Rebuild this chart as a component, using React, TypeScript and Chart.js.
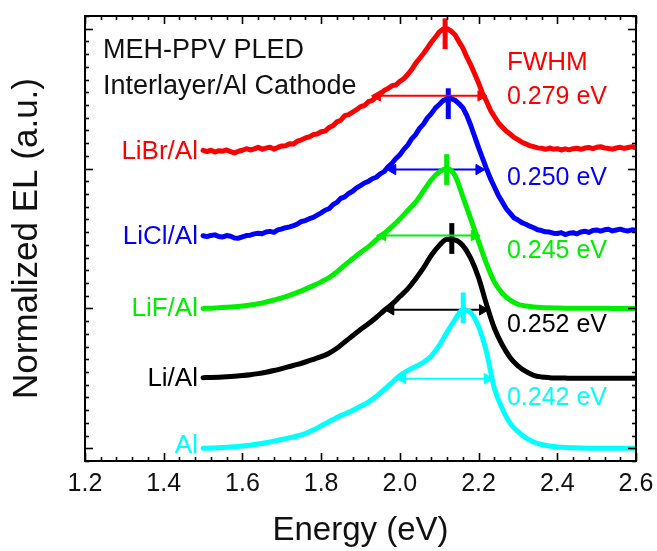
import React, { useEffect, useRef } from 'react';
import { Chart, registerables } from 'chart.js';

Chart.register(...registerables);

const FONT = "'Liberation Sans', Arial, Helvetica, sans-serif";

// ---------- data ----------
const CURVE_NAMES = ['LiBr/Al', 'LiCl/Al', 'LiF/Al', 'Li/Al', 'Al'];
const CURVE_COLORS = ['#ff0000', '#0000ff', '#00ee00', '#000000', '#00ffff'];
const CURVE_OFFSETS = [2.0, 1.5, 1.0, 0.5, 0.0];
const FWHM_TEXT = ['0.279 eV', '0.250 eV', '0.245 eV', '0.252 eV', '0.242 eV'];

// energy grids (eV)
const ENERGY_FINE = [
  1.50, 1.51, 1.52, 1.53, 1.54, 1.55, 1.56, 1.57, 1.58, 1.59,
  1.60, 1.61, 1.62, 1.63, 1.64, 1.65, 1.66, 1.67, 1.68, 1.69,
  1.70, 1.71, 1.72, 1.73, 1.74, 1.75, 1.76, 1.77, 1.78, 1.79,
  1.80, 1.81, 1.82, 1.83, 1.84, 1.85, 1.86, 1.87, 1.88, 1.89,
  1.90, 1.91, 1.92, 1.93, 1.94, 1.95, 1.96, 1.97, 1.98, 1.99,
  2.00, 2.01, 2.02, 2.03, 2.04, 2.05, 2.06, 2.07, 2.08, 2.09,
  2.10, 2.11, 2.12, 2.13, 2.14, 2.15, 2.16, 2.17, 2.18, 2.19,
  2.20, 2.21, 2.22, 2.23, 2.24, 2.25, 2.26, 2.27, 2.28, 2.29,
  2.30, 2.31, 2.32, 2.33, 2.34, 2.35, 2.36, 2.37, 2.38, 2.39,
  2.40, 2.41, 2.42, 2.43, 2.44, 2.45, 2.46, 2.47, 2.48, 2.49,
  2.50, 2.51, 2.52, 2.53, 2.54, 2.55, 2.56, 2.57, 2.58, 2.59,
  2.60,
];
const ENERGY = [
  1.50, 1.52, 1.54, 1.56, 1.58, 1.60, 1.62, 1.64, 1.66, 1.68,
  1.70, 1.72, 1.74, 1.76, 1.78, 1.80, 1.82, 1.84, 1.86, 1.88,
  1.90, 1.92, 1.94, 1.96, 1.98, 2.00, 2.02, 2.04, 2.06, 2.08,
  2.10, 2.12, 2.14, 2.16, 2.18, 2.20, 2.22, 2.24, 2.26, 2.28,
  2.30, 2.32, 2.34, 2.36, 2.38, 2.40, 2.42, 2.44, 2.46, 2.48,
  2.50, 2.52, 2.54, 2.56, 2.58, 2.60,
];

// normalized EL (noisy spectra on ENERGY_FINE)
const EL_LIBR = [
  0.130, 0.122, 0.131, 0.118, 0.128, 0.124, 0.133, 0.121, 0.112, 0.124,
  0.131, 0.142, 0.133, 0.141, 0.152, 0.138, 0.146, 0.153, 0.139, 0.151,
  0.162, 0.163, 0.178, 0.176, 0.197, 0.206, 0.219, 0.226, 0.243, 0.247,
  0.263, 0.268, 0.293, 0.306, 0.334, 0.346, 0.378, 0.386, 0.404, 0.421,
  0.443, 0.451, 0.478, 0.487, 0.513, 0.531, 0.558, 0.572, 0.593, 0.598,
  0.623, 0.642, 0.673, 0.707, 0.752, 0.787, 0.823, 0.862, 0.903, 0.938,
  0.977, 0.998, 1.000, 0.984, 0.957, 0.908, 0.862, 0.798, 0.742, 0.678,
  0.612, 0.538, 0.482, 0.418, 0.372, 0.328, 0.297, 0.268, 0.247, 0.223,
  0.207, 0.188, 0.177, 0.163, 0.157, 0.148, 0.146, 0.138, 0.147, 0.139,
  0.142, 0.133, 0.141, 0.134, 0.142, 0.146, 0.138, 0.147, 0.151, 0.143,
  0.152, 0.156, 0.148, 0.144, 0.139, 0.147, 0.152, 0.144, 0.151, 0.157,
  0.149,
];
const EL_LICL = [
  0.020, 0.013, 0.022, 0.026, 0.014, 0.011, 0.021, 0.016, 0.004, 0.002,
  0.012, 0.021, 0.024, 0.033, 0.038, 0.034, 0.047, 0.051, 0.044, 0.062,
  0.068, 0.077, 0.083, 0.092, 0.104, 0.122, 0.128, 0.142, 0.151, 0.167,
  0.183, 0.202, 0.213, 0.242, 0.258, 0.287, 0.298, 0.322, 0.338, 0.362,
  0.378, 0.397, 0.408, 0.427, 0.438, 0.462, 0.478, 0.512, 0.538, 0.572,
  0.598, 0.637, 0.668, 0.712, 0.743, 0.787, 0.818, 0.862, 0.893, 0.932,
  0.958, 0.986, 0.998, 1.000, 0.990, 0.965, 0.935, 0.880, 0.810, 0.730,
  0.650, 0.575, 0.500, 0.430, 0.370, 0.310, 0.262, 0.214, 0.182, 0.148,
  0.132, 0.113, 0.102, 0.088, 0.077, 0.063, 0.057, 0.048, 0.046, 0.038,
  0.036, 0.042, 0.028, 0.037, 0.041, 0.033, 0.047, 0.052, 0.043, 0.057,
  0.061, 0.053, 0.062, 0.066, 0.054, 0.061, 0.067, 0.058, 0.054, 0.062,
  0.059,
];
// smooth spectra on ENERGY
const EL_LIF = [
  0.000, 0.002, 0.005, 0.008, 0.012, 0.018, 0.025, 0.034, 0.045, 0.060,
  0.075, 0.094, 0.115, 0.138, 0.163, 0.190, 0.220, 0.260, 0.310, 0.355,
  0.400, 0.440, 0.490, 0.535, 0.585, 0.640, 0.700, 0.760, 0.840, 0.920,
  0.975, 1.000, 0.950, 0.800, 0.640, 0.480, 0.320, 0.190, 0.110, 0.060,
  0.030, 0.018, 0.010, 0.006, 0.004, 0.003, 0.002, 0.002, 0.001, 0.001,
  0.001, 0.001, 0.000, 0.000, 0.000, 0.000,
];
const EL_LI = [
  0.005, 0.006, 0.008, 0.011, 0.015, 0.020, 0.026, 0.034, 0.044, 0.056,
  0.070, 0.085, 0.100, 0.117, 0.135, 0.155, 0.180, 0.215, 0.260, 0.305,
  0.350, 0.390, 0.435, 0.485, 0.530, 0.585, 0.640, 0.710, 0.790, 0.880,
  0.950, 0.995, 0.990, 0.950, 0.860, 0.720, 0.530, 0.360, 0.240, 0.150,
  0.090, 0.050, 0.022, 0.010, 0.005, 0.003, 0.002, 0.001, 0.001, 0.000,
  0.000, 0.000, 0.000, 0.000, 0.000, 0.000,
];
const EL_AL = [
  0.000, 0.002, 0.004, 0.007, 0.011, 0.016, 0.022, 0.030, 0.040, 0.051,
  0.063, 0.075, 0.088, 0.105, 0.130, 0.160, 0.190, 0.220, 0.245, 0.270,
  0.300, 0.330, 0.370, 0.420, 0.470, 0.520, 0.555, 0.585, 0.615, 0.660,
  0.735, 0.830, 0.920, 0.990, 0.970, 0.870, 0.690, 0.430, 0.285, 0.180,
  0.120, 0.075, 0.045, 0.027, 0.016, 0.010, 0.006, 0.004, 0.002, 0.001,
  0.001, 0.000, 0.000, 0.000, 0.000, 0.000,
];

// peak markers (energy, centre height in axis units)
const PEAK_E = [2.115, 2.123, 2.119, 2.132, 2.161];
const PEAK_Y = [2.964, 2.464, 1.993, 1.5, 1.004];
const PEAK_HALF = 0.11;

// FWHM arrows (tip energies and height)
const ARROW_LEFT = [1.928, 1.967, 1.941, 1.962, 1.992];
const ARROW_RIGHT = [2.221, 2.216, 2.204, 2.225, 2.237];
const ARROW_Y = [2.52, 1.993, 1.521, 0.99, 0.498];

// text anchors (axis units)
const NAME_Y = [2.121, 1.514, 1.0, 0.5, 0.021];
const FWHM_Y = [2.514, 1.929, 1.407, 0.879, 0.357];

const X_MIN = 1.2;
const X_MAX = 2.6;
const Y_MIN = -1 / 11;
const Y_MAX = 3 + 1 / 11;

const framePlugin = {
  id: 'frameAndText',
  afterDatasetsDraw(chart: any) {
    const { ctx, chartArea: a, scales } = chart;
    const xs = scales.x;
    const ys = scales.y;
    ctx.save();
    // frame
    ctx.strokeStyle = '#000';
    ctx.lineWidth = 2;
    ctx.strokeRect(a.left, a.top, a.right - a.left, a.bottom - a.top);
    ctx.lineWidth = 1.6;
    const seg = (x1: number, y1: number, x2: number, y2: number) => {
      ctx.beginPath();
      ctx.moveTo(x1, y1);
      ctx.lineTo(x2, y2);
      ctx.stroke();
    };
    // x ticks (minor 0.04, major 0.2), inward on bottom and top
    for (let i = 0; i <= 35; i++) {
      const v = X_MIN + i * 0.04;
      const px = Math.round(xs.getPixelForValue(v)) + 0.5;
      const len = i % 5 === 0 ? 8 : 4;
      seg(px, a.bottom, px, a.bottom - len);
      seg(px, a.top, px, a.top + len);
    }
    // y ticks (minor 1/11, major 1), inward on left and right
    for (let i = -1; i <= 34; i++) {
      const v = i / 11;
      const py = Math.round(ys.getPixelForValue(v)) + 0.5;
      const len = i % 11 === 0 ? 8 : 4;
      seg(a.left, py, a.left + len, py);
      seg(a.right, py, a.right - len, py);
    }

    // texts
    ctx.textBaseline = 'middle';
    ctx.textAlign = 'left';
    ctx.fillStyle = '#111';
    ctx.font = `27px ${FONT}`;
    ctx.fillText('MEH-PPV PLED', xs.getPixelForValue(1.2457), ys.getPixelForValue(2.843));
    ctx.fillText('Interlayer/Al Cathode', xs.getPixelForValue(1.2457), ys.getPixelForValue(2.586));

    ctx.textAlign = 'right';
    ctx.font = `26px ${FONT}`;
    CURVE_NAMES.forEach((n, i) => {
      ctx.fillStyle = CURVE_COLORS[i];
      ctx.fillText(n, xs.getPixelForValue(1.487), ys.getPixelForValue(NAME_Y[i]));
    });

    ctx.textAlign = 'left';
    ctx.fillStyle = CURVE_COLORS[0];
    ctx.font = `26px ${FONT}`;
    ctx.fillText('FWHM', xs.getPixelForValue(2.272), ys.getPixelForValue(2.757));
    ctx.font = `25px ${FONT}`;
    FWHM_TEXT.forEach((t, i) => {
      ctx.fillStyle = CURVE_COLORS[i];
      ctx.fillText(t, xs.getPixelForValue(2.272), ys.getPixelForValue(FWHM_Y[i]));
    });
    ctx.restore();
  },
};

export default function App() {
  const ref = useRef<HTMLCanvasElement>(null);

  useEffect(() => {
    const spectra = [EL_LIBR, EL_LICL, EL_LIF, EL_LI, EL_AL];
    const grids = [ENERGY_FINE, ENERGY_FINE, ENERGY, ENERGY, ENERGY];
    const noisy = [true, true, false, false, false];
    const HEAD = 0.015;

    const datasets: any[] = [];
    spectra.forEach((vals, i) => {
      datasets.push({
        data: grids[i].map((e, k) => ({ x: e, y: CURVE_OFFSETS[i] + vals[k] })),
        borderColor: CURVE_COLORS[i],
        borderWidth: 5,
        pointRadius: 0,
        tension: 0,
        cubicInterpolationMode: noisy[i] ? 'default' : 'monotone',
        borderJoinStyle: 'round',
        borderCapStyle: 'round',
        fill: false,
      });
    });
    CURVE_COLORS.forEach((c, i) => {
      datasets.push({
        data: [
          { x: PEAK_E[i], y: PEAK_Y[i] - PEAK_HALF },
          { x: PEAK_E[i], y: PEAK_Y[i] + PEAK_HALF },
        ],
        borderColor: c,
        borderWidth: 5,
        pointRadius: 0,
        borderCapStyle: 'butt',
      });
      datasets.push({
        data: [
          { x: ARROW_LEFT[i] + HEAD, y: ARROW_Y[i] },
          { x: ARROW_RIGHT[i] - HEAD, y: ARROW_Y[i] },
        ],
        borderColor: c,
        borderWidth: 2,
        pointRadius: 6,
        pointStyle: 'triangle',
        pointRotation: [-90, 90],
        pointBackgroundColor: c,
        pointBorderColor: c,
        pointBorderWidth: 1,
      });
    });

    const chart = new Chart(ref.current as HTMLCanvasElement, {
      type: 'line',
      data: { datasets },
      options: {
        animation: false,
        responsive: true,
        maintainAspectRatio: false,
        events: [],
        layout: { padding: { left: 0, right: 21, top: 16, bottom: 0 } },
        plugins: {
          legend: { display: false },
          tooltip: { enabled: false },
        },
        scales: {
          x: {
            type: 'linear',
            min: X_MIN,
            max: X_MAX,
            grid: { display: false, drawTicks: false },
            border: { display: false },
            ticks: {
              stepSize: 0.2,
              color: '#111',
              font: { family: FONT, size: 25 },
              padding: 8,
              maxRotation: 0,
              callback: (v: any) => Number(v).toFixed(1),
            },
            title: {
              display: true,
              text: 'Energy (eV)',
              color: '#111',
              font: { family: FONT, size: 33 },
              padding: { top: 0, bottom: 0 },
            },
            afterFit: (s: any) => {
              s.height = 90;
              s.paddingLeft = 0;
              s.paddingRight = 0;
            },
          },
          y: {
            type: 'linear',
            min: Y_MIN,
            max: Y_MAX,
            grid: { display: false, drawTicks: false },
            border: { display: false },
            ticks: { display: false },
            title: {
              display: true,
              text: 'Normalized EL (a.u.)',
              color: '#111',
              font: { family: FONT, size: 35 },
              padding: { top: 6, bottom: 0 },
            },
            afterFit: (s: any) => {
              s.width = 85;
              s.paddingTop = 0;
              s.paddingBottom = 0;
            },
          },
        },
      },
      plugins: [framePlugin],
    } as any);
    return () => chart.destroy();
  }, []);

  return (
    <div style={{ position: 'fixed', left: 0, top: 0, width: 657, height: 551, background: '#fff' }}>
      <canvas ref={ref} />
    </div>
  );
}
